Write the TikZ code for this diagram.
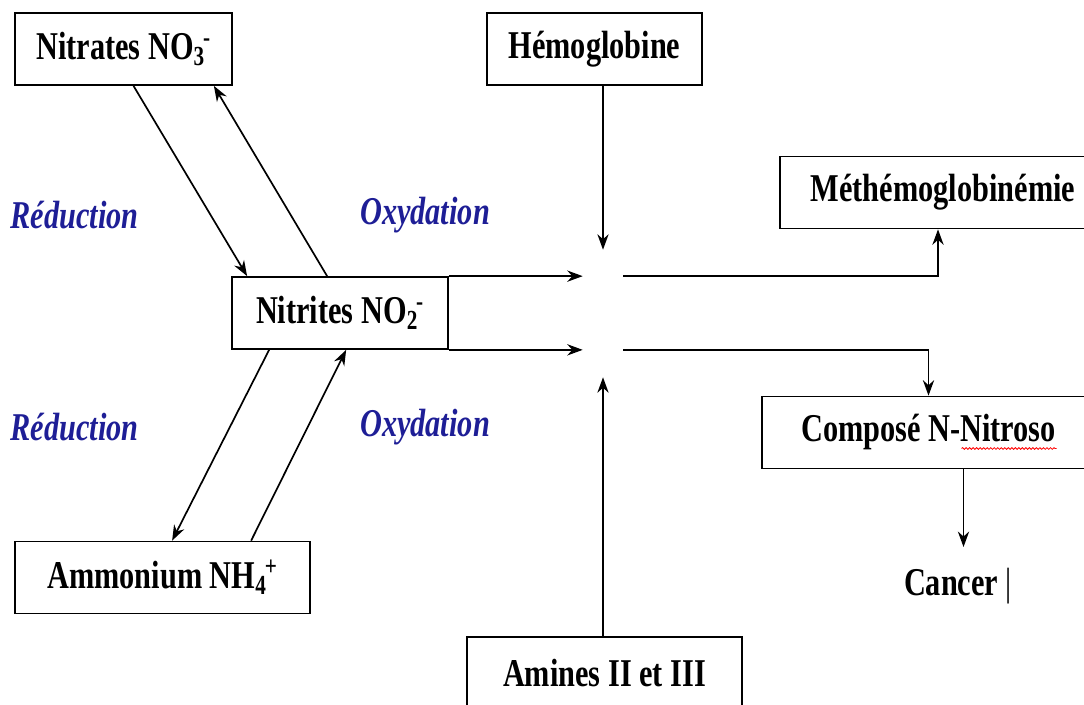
\documentclass[tikz,border=0pt]{standalone}
\usepackage{fontspec}
\setmainfont{Liberation Serif}[FakeStretch=0.77]
\usetikzlibrary{shapes, arrows.meta, calc, decorations.pathmorphing}
\definecolor{oxblue}{RGB}{30,30,150}
\newcommand{\ionsub}[2]{\textsubscript{#1}\kern-0.05em\textsuperscript{#2}}
\tikzstyle{species} = [rectangle, minimum height=1.8cm, text centered, draw=black, line width=1.2pt, font=\fontsize{28}{32}\selectfont\bfseries]
\tikzstyle{process} = [text=oxblue, font=\fontsize{28}{32}\selectfont\bfseries\itshape]
\tikzstyle{junction} = [rectangle, minimum width=1cm, minimum height=3.175cm]
\tikzstyle{edge} = [line width=1.2pt, -{Stealth[length=11pt, width=8pt]}]

\begin{document}
\begin{tikzpicture}[x=0.025cm, y=-0.025cm]
\useasboundingbox (0,0) rectangle (1084,704);
\clip (0,0) rectangle (1084,704);

\node (0) [species, minimum width=5.425cm] at (123.5,49) {Nitrates NO\ionsub{3}{-}};
\node (1) [species, minimum width=5.4cm] at (340,313) {Nitrites NO\ionsub{2}{-}};
\node (2) [species, minimum width=7.375cm] at (162.5,577.5) {Ammonium NH\ionsub{4}{+}};
\node (3) [species, minimum width=5.375cm] at (594.5,49) {Hémoglobine};
\node (4) [junction] at (603,313.5) {};
\node (5) [species, minimum width=6.875cm] at (604.5,673) {Amines II et III};
\node (6) [species, minimum width=8.15cm] at (943,192.5) {Méthémoglobinémie};
\node (7) [species, minimum width=8.325cm] at (928.5,432.5) {Composé N-Nitroso};
\node (8) [anchor=north, text height=20pt, text depth=0pt, inner ysep=14pt, inner xsep=0pt, font=\fontsize{28}{32}\selectfont\bfseries] at (958,547) {Cancer \textmd{|}};

\node (9) [process] at (74.5,215) {Réduction};
\node (10) [process] at (425,215) {Oxydation};
\node (11) [process] at (74.5,427) {Réduction};
\node (12) [process] at (425,427) {Oxydation};

\coordinate (c1) at ($(7.south)+(35,0)$);

\draw [edge] ($(0.south)+(10,0)$) -- ($(1.north west)+(16,0)$);
\draw [edge] ($(1.north west)+(96,0)$) -- ($(0.south east)+(-19,0)$);
\draw [edge] ($(1.south west)+(38,0)$) -- ($(2.north west)+(158,0)$);
\draw [edge] ($(2.north west)+(237,0)$) -- ($(1.south west)+(115,0)$);
\draw [edge] (1.north east) -- (1.north east -| 4.west);
\draw [edge] (1.south east) -- (1.south east -| 4.west);
\draw [edge] (3.south -| 4.north) -- (4.north);
\draw [edge] (5.north -| 4.south) -- (4.south);
\draw [edge] (4.east |- 1.north) -| ($(6.south)+(-5,0)$);
\draw [edge] (4.east |- 1.south) -| (7.north);
\draw [edge] (c1) -- (c1 |- 8.north);

\draw [red, line width=0.6pt, decorate, decoration={snake, amplitude=0.6pt, segment length=2.5pt}] ($(7.center)+(33,16)$) -- ($(7.center)+(128,16)$);

\end{tikzpicture}
\end{document}
